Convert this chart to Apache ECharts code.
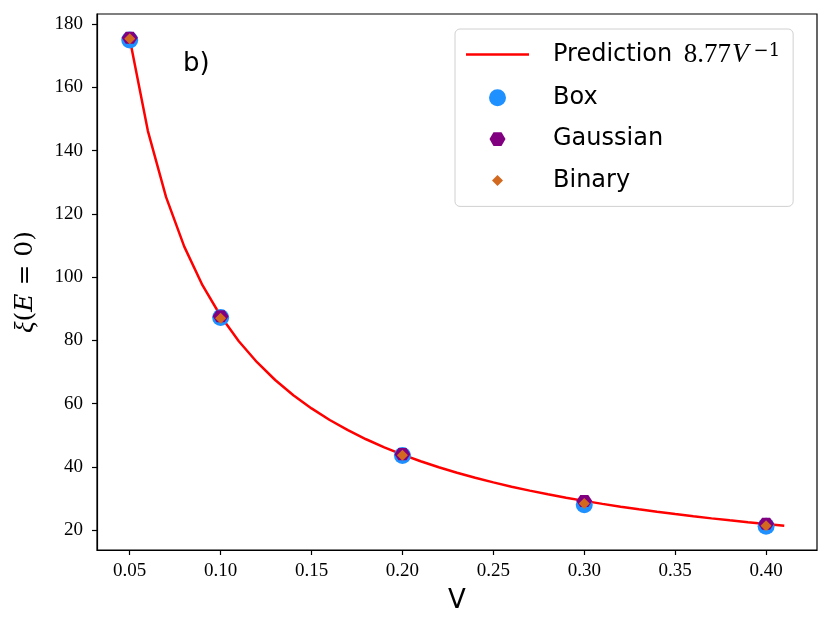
<!DOCTYPE html>
<html>
<head>
<meta charset="utf-8">
<script src="https://cdn.jsdelivr.net/npm/echarts@6/dist/echarts.min.js"></script>
<style>
html,body{margin:0;padding:0;background:#fff;}
#chart{width:831px;height:632px;}
</style>
</head>
<body>
<div id="chart"></div>
<script>
// ---- data ----
const predV  = [0.05,0.06,0.07,0.08,0.09,0.10,0.11,0.12,0.13,0.14,0.15,0.16,0.17,0.18,0.19,0.20,0.21,0.22,0.23,0.24,0.25,0.26,0.27,0.28,0.29,0.30,0.31,0.32,0.33,0.34,0.35,0.36,0.37,0.38,0.39,0.40,0.41];
const predXi = [175.40,146.17,125.29,109.63,97.44,87.70,79.73,73.08,67.46,62.64,58.47,54.81,51.59,48.72,46.16,43.85,41.76,39.86,38.13,36.54,35.08,33.73,32.48,31.32,30.24,29.23,28.29,27.41,26.58,25.79,25.06,24.36,23.70,23.08,22.49,21.93,21.39];
const sampleV   = [0.05, 0.10, 0.20, 0.30, 0.40];
const boxXi     = [175.0, 87.2, 43.6, 28.0, 21.2];
const gaussXi   = [175.7, 87.6, 44.0, 29.2, 22.0];
const binaryXi  = [175.4, 87.0, 43.7, 28.4, 21.4];
const xTicks = [0.05,0.10,0.15,0.20,0.25,0.30,0.35,0.40];
const yTicks = [20,40,60,80,100,120,140,160,180];
const seriesNames = ['Prediction', 'Box', 'Gaussian', 'Binary'];

const pairs = (xs, ys) => xs.map((x, i) => [x, ys[i]]);

const HEX = 'path://M-1 0 L-0.5 -0.866 L0.5 -0.866 L1 0 L0.5 0.866 L-0.5 0.866 Z';
const HEX_LEG = 'path://M0 -1.06 M-1 0 L-0.5 -0.866 L0.5 -0.866 L1 0 L0.5 0.866 L-0.5 0.866 Z M0 1.06';
const DIA_LEG = 'path://M0 -1.55 M0 -1 L1 0 L0 1 L-1 0 Z M0 1.55';
const LINE_LEG = 'path://M0 0 L25.2 0 L25.2 1 L0 1 Z';

const serif = '"Liberation Serif", "DejaVu Serif", serif';
const dserif = '"DejaVu Serif", serif';
const sans = '"DejaVu Sans", sans-serif';

const chart = echarts.init(document.getElementById('chart'), null, {renderer: 'canvas'});
chart.setOption({
  animation: false,
  backgroundColor: '#fff',
  grid: {left: 97, right: 14, top: 14, bottom: 82, show: true, borderColor: '#000', borderWidth: 1.2, backgroundColor: 'transparent'},
  xAxis: {
    type: 'value', min: 0.032, max: 0.428,
    name: 'V', nameLocation: 'middle', nameGap: 38,
    nameTextStyle: {fontFamily: sans, fontSize: 26, color: '#000'},
    axisLine: {show: true, lineStyle: {color: '#000', width: 1.2}},
    axisTick: {show: true, inside: false, length: 5, lineStyle: {color: '#000', width: 1.2}, customValues: xTicks},
    axisLabel: {show: true, margin: 12, fontFamily: serif, fontSize: 19, color: '#000', customValues: xTicks,
      formatter: v => v.toFixed(2)},
    splitLine: {show: false}
  },
  yAxis: {
    type: 'value', min: 13.7, max: 183.2,
    name: '{g|ξ}{r|(}{i|E}{r| = 0)}', nameLocation: 'middle', nameGap: 58, nameRotate: 90,
    nameTextStyle: {fontFamily: dserif, fontSize: 25, color: '#000',
      rich: {g: {fontFamily: serif, fontStyle: 'italic', fontSize: 27, color: '#000'},
             i: {fontFamily: dserif, fontStyle: 'italic', fontSize: 25, color: '#000'},
             r: {fontFamily: dserif, fontSize: 25, color: '#000'}}},
    axisLine: {show: true, lineStyle: {color: '#000', width: 1.2}},
    axisTick: {show: true, inside: false, length: 5, lineStyle: {color: '#000', width: 1.2}, customValues: yTicks},
    axisLabel: {show: true, margin: 14, fontFamily: serif, fontSize: 19, color: '#000', customValues: yTicks,
      formatter: v => String(Math.round(v))},
    splitLine: {show: false}
  },
  legend: {
    left: 455, top: 29, orient: 'vertical', z: 10,
    padding: [12, 13, 14, 11],
    itemWidth: 63, itemHeight: 17, itemGap: 17.3,
    backgroundColor: 'rgba(255,255,255,0.85)', borderColor: '#d0d0d0', borderWidth: 1, borderRadius: 5,
    symbolKeepAspect: true,
    data: [
      {name: seriesNames[0], icon: LINE_LEG},
      {name: seriesNames[1], icon: 'circle'},
      {name: seriesNames[2], icon: HEX_LEG},
      {name: seriesNames[3], icon: DIA_LEG}
    ],
    formatter: function (name) {
      if (name === 'Prediction') return '{a|Prediction }{m|8.77}{v|V}{s|−1}';
      return '{a|' + name + '}';
    },
    textStyle: {
      fontFamily: sans, fontSize: 24, color: '#000', padding: [0, 0, 0, 19], lineHeight: 24,
      rich: {
        a: {fontFamily: sans, fontSize: 24, color: '#000', lineHeight: 24},
        m: {fontFamily: serif, fontSize: 27, color: '#000', lineHeight: 24, padding: [0, 0, 0, 4]},
        v: {fontFamily: serif, fontStyle: 'italic', fontSize: 27, color: '#000', lineHeight: 24, padding: [0, 5, 0, 1]},
        s: {fontFamily: dserif, fontSize: 18, color: '#000', verticalAlign: 'top', lineHeight: 24, padding: [0, 0, 8, 0]}
      }
    }
  },
  graphic: [{
    type: 'text', left: 183, top: 51, z: 5,
    style: {text: 'b)', font: '26px "DejaVu Sans", sans-serif', fill: '#000'}
  }],
  series: [
    {name: seriesNames[0], type: 'line', data: pairs(predV, predXi), showSymbol: false, symbol: 'none',
     lineStyle: {color: '#ff0000', width: 2.5}, itemStyle: {color: '#ff0000'}, z: 2},
    {name: seriesNames[1], type: 'scatter', data: pairs(sampleV, boxXi), symbol: 'circle', symbolSize: 17,
     itemStyle: {color: '#1e90ff', opacity: 1}, z: 3},
    {name: seriesNames[2], type: 'scatter', data: pairs(sampleV, gaussXi), symbol: HEX, symbolSize: [16, 14],
     symbolKeepAspect: true, itemStyle: {color: '#800080', opacity: 1}, z: 4},
    {name: seriesNames[3], type: 'scatter', data: pairs(sampleV, binaryXi), symbol: 'diamond', symbolSize: [11, 11],
     itemStyle: {color: '#d2691e', opacity: 1}, z: 5}
  ]
});
</script>
</body>
</html>
